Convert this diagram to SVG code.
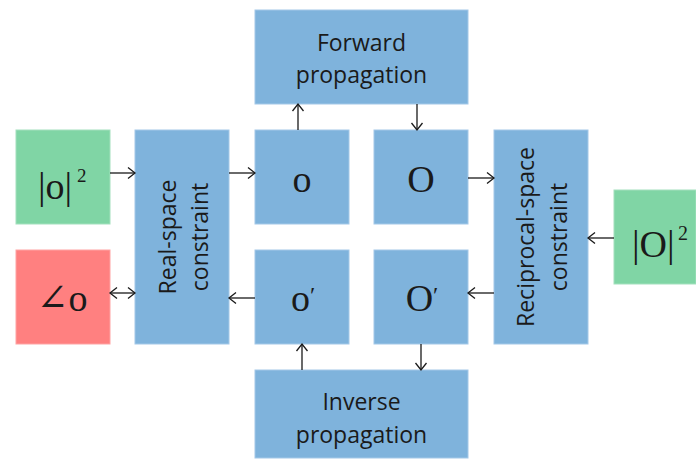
<svg xmlns="http://www.w3.org/2000/svg" width="696" height="459" viewBox="0 0 696 459">
<style>
.b{fill:#7FB3DC;stroke:#A4C8E8;stroke-width:1}
.g{fill:#80D5A5;stroke:#A3E0BD;stroke-width:1}
.r{fill:#FF8080;stroke:#FFA3A3;stroke-width:1}
.t{font-family:"Open Sans","Liberation Sans",sans-serif;font-size:23px;fill:#1a1a1a;text-anchor:middle}
.m{font-family:"Liberation Serif","DejaVu Serif",serif;font-size:38px;fill:#1a1a1a}
.c{text-anchor:middle}
.s{font-family:"Liberation Serif","DejaVu Serif",serif;fill:#1a1a1a}
.p{font-size:24px}
.a{stroke:#1a1a1a;stroke-width:1.3;fill:none;marker-end:url(#ah)}
</style>
<defs>
<marker id="ah" markerUnits="userSpaceOnUse" markerWidth="12" markerHeight="14" refX="9" refY="7" orient="auto-start-reverse">
<path d="M2,1.5 L9,7 L2,12.5" fill="none" stroke="#1a1a1a" stroke-width="1.3"/>
</marker>
</defs>
<rect width="696" height="459" fill="#ffffff"/>
<g id="mag-o">
<rect class="g" x="16" y="130" width="94" height="94"/>
<text class="m" x="38" y="199">|o|</text>
<text class="s" x="77" y="182" font-size="19">2</text>
</g>
<g id="phase-o">
<rect class="r" x="16" y="250" width="94" height="94"/>
<text class="m c" x="62" y="311">∠o</text>
</g>
<g id="real-space">
<rect class="b" x="135" y="130" width="94" height="214"/>
<text class="t" transform="translate(176,237) rotate(-90)" x="0" y="0">Real-space</text>
<text class="t" transform="translate(208,237) rotate(-90)" x="0" y="0">constraint</text>
</g>
<g id="forward">
<rect class="b" x="255" y="10" width="213" height="94"/>
<text class="t" x="361.5" y="51">Forward</text>
<text class="t" x="361.5" y="83">propagation</text>
</g>
<g id="o">
<rect class="b" x="255" y="130" width="94" height="94"/>
<text class="m c" x="302" y="192">o</text>
</g>
<g id="O">
<rect class="b" x="374" y="130" width="94" height="94"/>
<text class="m c" x="421" y="192">O</text>
</g>
<g id="o-prime">
<rect class="b" x="255" y="250" width="94" height="94"/>
<text class="m c" x="303" y="311">o<tspan class="p" dy="-8">′</tspan></text>
</g>
<g id="O-prime">
<rect class="b" x="374" y="250" width="94" height="94"/>
<text class="m c" x="422" y="311">O<tspan class="p" dy="-8">′</tspan></text>
</g>
<g id="inverse">
<rect class="b" x="255" y="370" width="213" height="88"/>
<text class="t" x="361.5" y="410">Inverse</text>
<text class="t" x="361.5" y="443">propagation</text>
</g>
<g id="reciprocal-space">
<rect class="b" x="494" y="130" width="94" height="214"/>
<text class="t" transform="translate(534,237) rotate(-90)" x="0" y="0">Reciprocal-space</text>
<text class="t" transform="translate(567,237) rotate(-90)" x="0" y="0">constraint</text>
</g>
<g id="mag-O">
<rect class="g" x="614" y="190" width="82" height="94"/>
<text class="m" x="632" y="257" font-size="40">|O|</text>
<text class="s" x="678" y="240" font-size="20">2</text>
</g>
<g id="connectors">
<line class="a" x1="110" y1="173" x2="135" y2="173"/>
<line class="a" x1="229" y1="173" x2="255" y2="173"/>
<line class="a" x1="298" y1="130" x2="298" y2="104"/>
<line class="a" x1="417" y1="104" x2="417" y2="130"/>
<line class="a" x1="468" y1="178" x2="494" y2="178"/>
<line class="a" x1="614" y1="238" x2="588" y2="238"/>
<line class="a" x1="494" y1="293" x2="468" y2="293"/>
<line class="a" x1="421" y1="344" x2="421" y2="370"/>
<line class="a" x1="302" y1="370" x2="302" y2="344"/>
<line class="a" x1="255" y1="298" x2="229" y2="298"/>
<line class="a" x1="110" y1="293" x2="135" y2="293" marker-start="url(#ah)"/>
</g>
</svg>
